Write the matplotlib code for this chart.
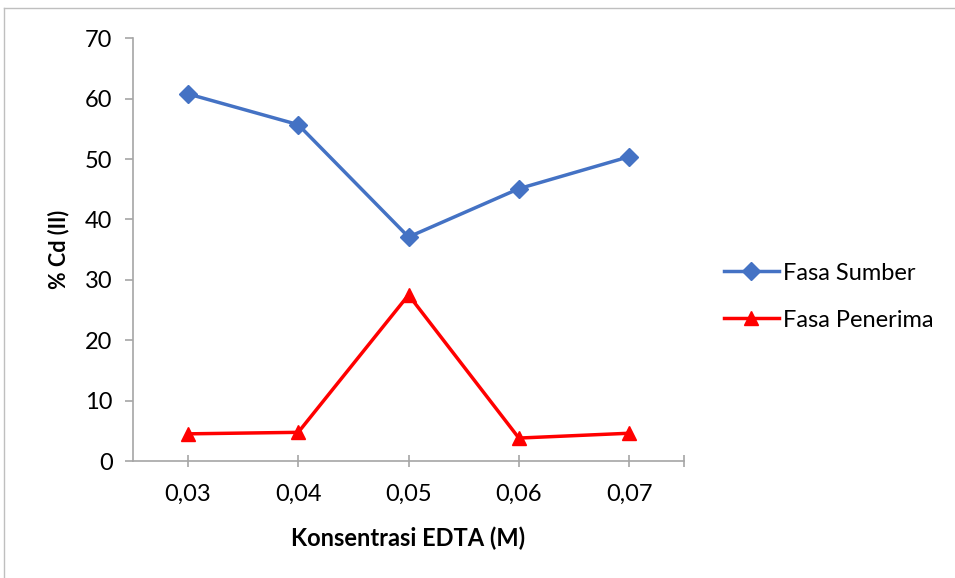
import matplotlib.pyplot as plt
from matplotlib.lines import Line2D

# data
konsentrasi = ['0,03', '0,04', '0,05', '0,06', '0,07']
fasa_sumber = [60.8, 55.7, 37.1, 45.1, 50.4]
fasa_penerima = [4.5, 4.75, 27.5, 3.8, 4.6]

plt.rcParams['font.family'] = ['Lato', 'DejaVu Sans']

fig = plt.figure(figsize=(9.55, 5.78), dpi=100)
ax = fig.add_axes([0.139, 0.2024, 0.5776, 0.7313])

x = list(range(len(konsentrasi)))
ax.plot(x, fasa_sumber, color='#4472C4', lw=2.5, marker='D', markersize=9,
        label='Fasa Sumber')
ax.plot(x, fasa_penerima, color='#FF0000', lw=2.5, marker='^', markersize=10,
        label='Fasa Penerima')

ax.set_xlim(-0.5, 4.5)
ax.set_ylim(0, 70)
ax.set_yticks(range(0, 71, 10))
ax.set_xticks(x)
ax.set_xticklabels(konsentrasi)
ax.set_xticks([4.5], minor=True)

axis_grey = '#a6a6a6'
for side in ['top', 'right']:
    ax.spines[side].set_visible(False)
for side in ['left', 'bottom']:
    ax.spines[side].set_color(axis_grey)
    ax.spines[side].set_linewidth(1.2)

ax.tick_params(axis='both', which='both', colors=axis_grey, labelcolor='black',
               labelsize=17, width=1.2)
ax.tick_params(axis='y', direction='out', length=5.5, pad=9)
ax.tick_params(axis='x', which='both', direction='inout', length=8.6, pad=12)

ax.set_ylabel('% Cd (II)', fontsize=15.5, fontweight='bold', labelpad=11)
ax.set_xlabel('Konsentrasi EDTA (M)', fontsize=17, fontweight='bold', labelpad=16)

fig.legend(loc='center left', bbox_to_anchor=(0.746, 0.487), frameon=False,
           fontsize=17, handlelength=2.3, handletextpad=0.2, labelspacing=1.1,
           borderpad=0.0)

# light frame around the chart area like the original export
fig.add_artist(Line2D([0.004, 0.004], [0.0, 0.986], color='#bfbfbf', lw=1.0,
                      transform=fig.transFigure))
fig.add_artist(Line2D([0.004, 1.0], [0.986, 0.986], color='#bfbfbf', lw=1.0,
                      transform=fig.transFigure))

fig.savefig('out.png', dpi=100)
